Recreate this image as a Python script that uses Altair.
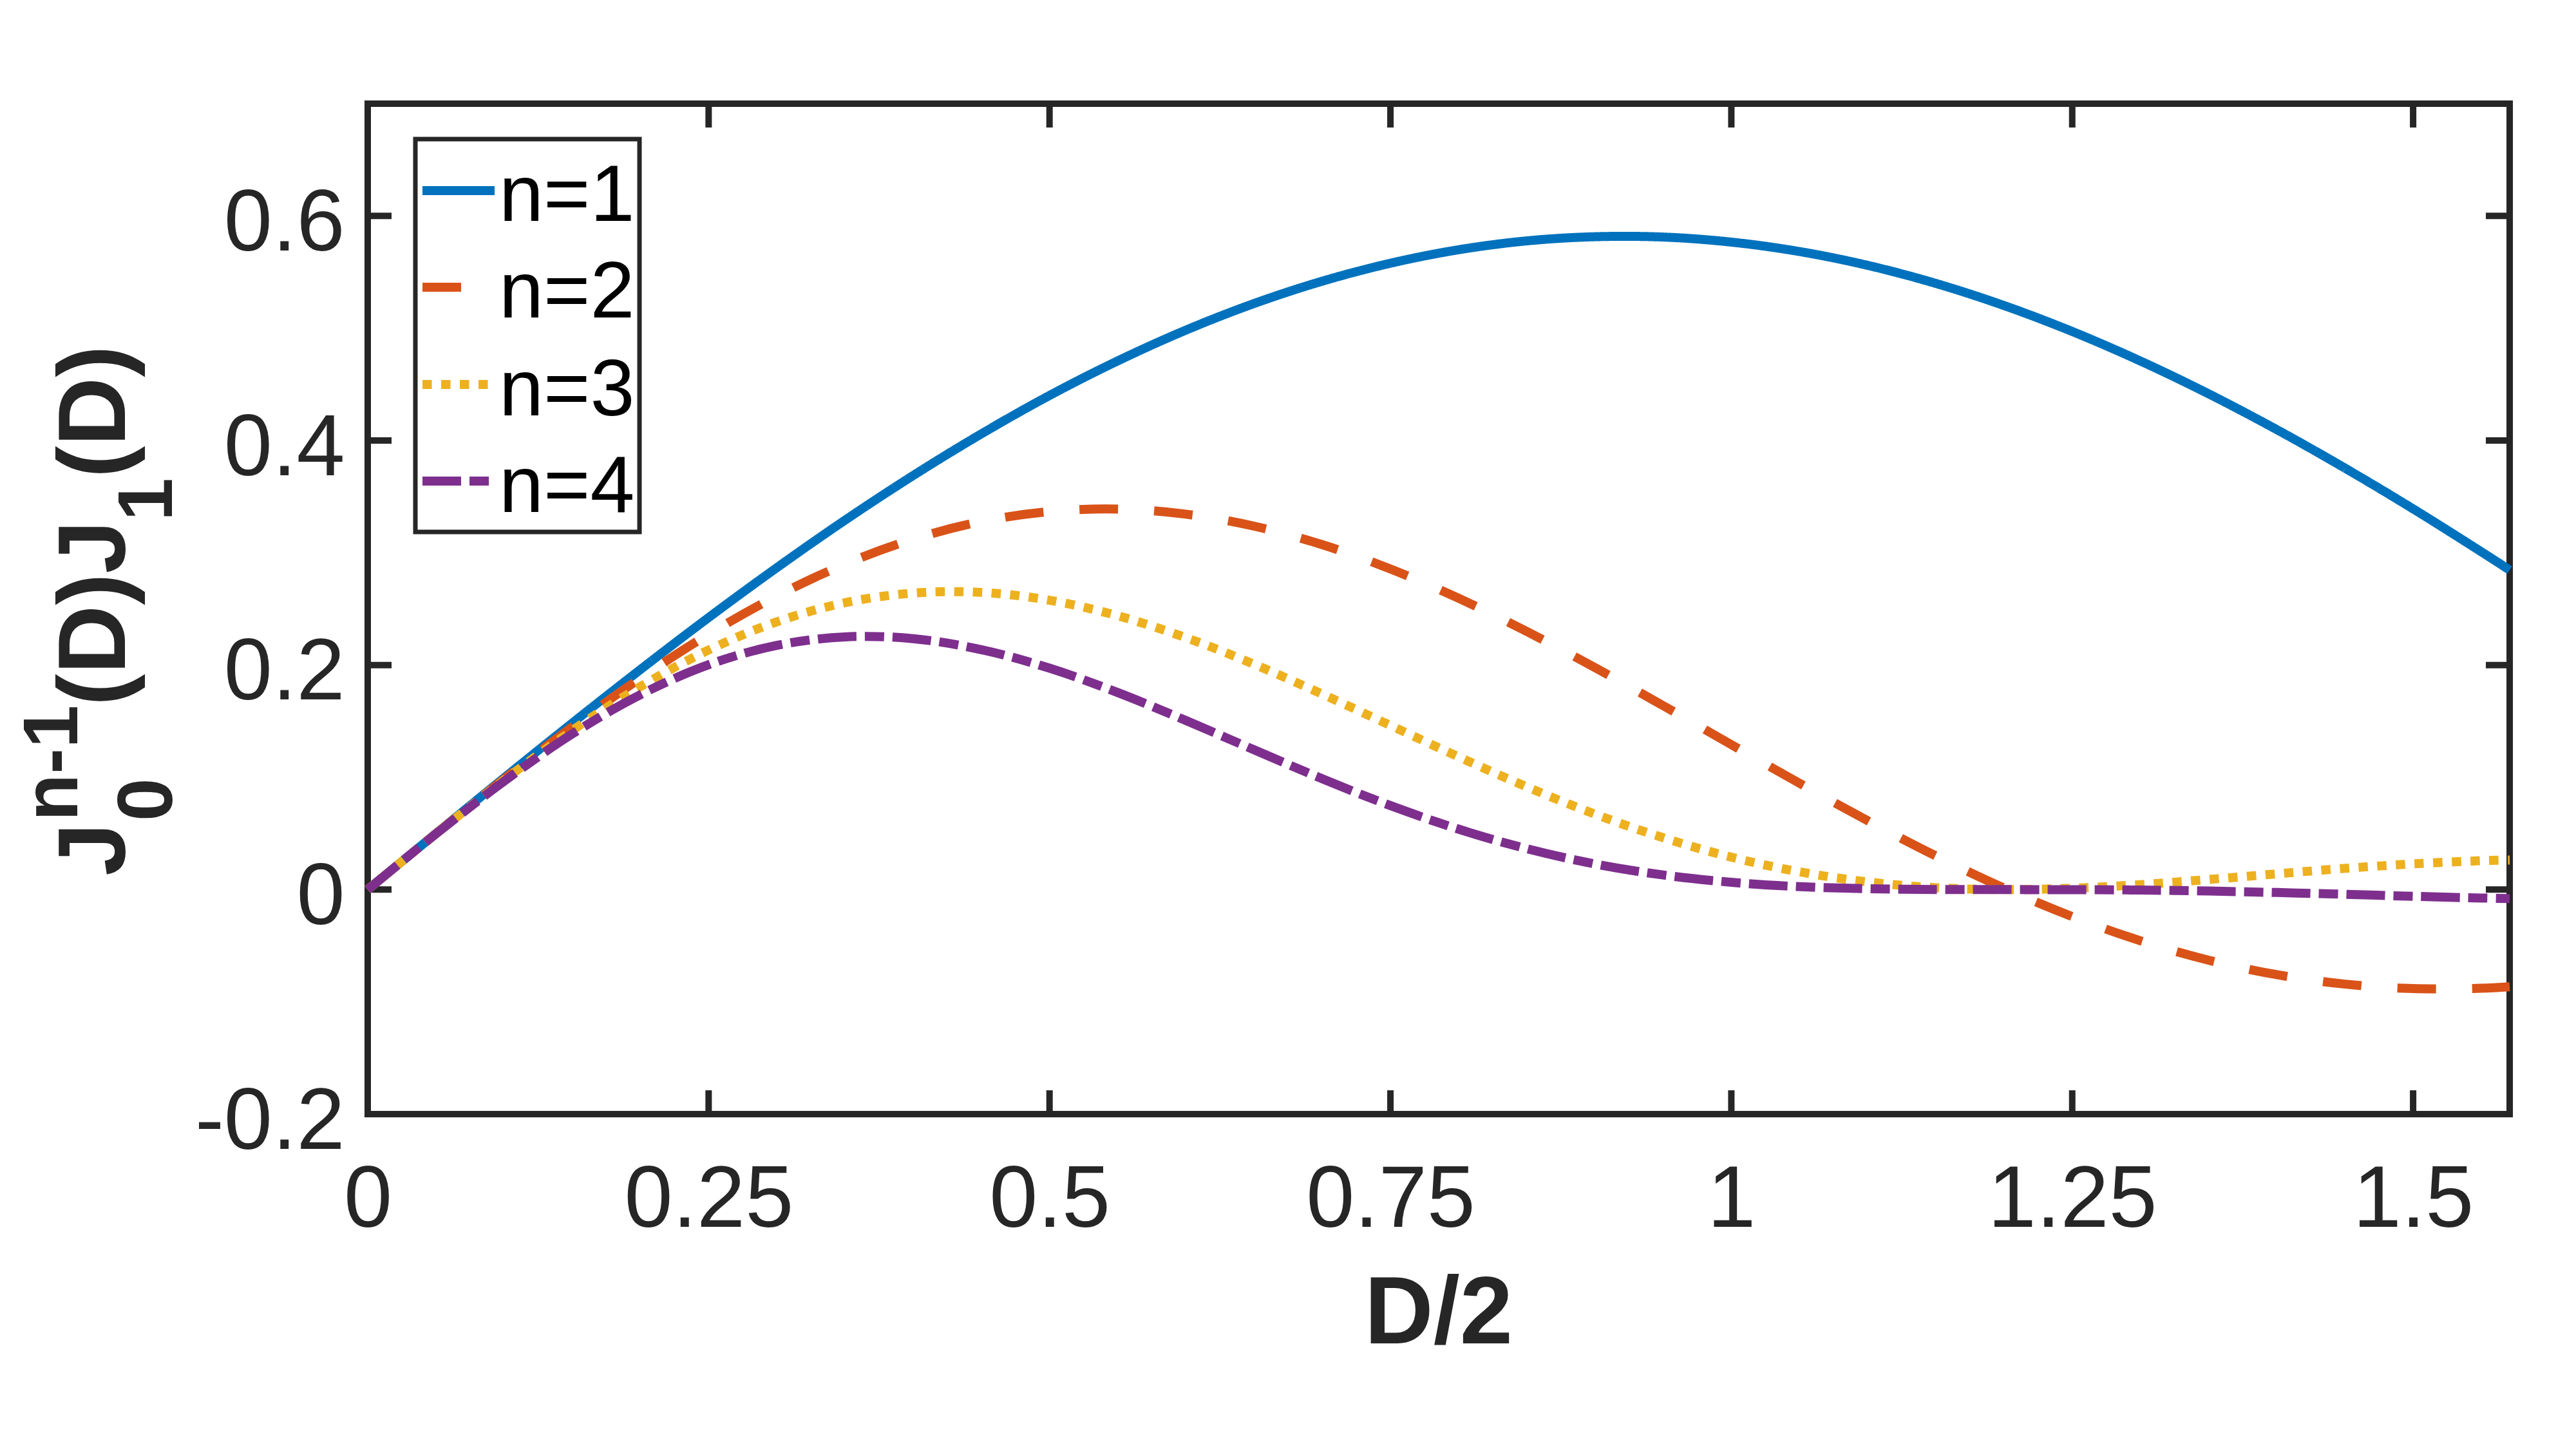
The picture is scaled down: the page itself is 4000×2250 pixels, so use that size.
import altair as alt
import pandas as pd

# ---------------- data ----------------
d_half = [0.00, 0.05, 0.10, 0.15, 0.20, 0.25, 0.30, 0.35, 0.40, 0.45, 0.50,
          0.55, 0.60, 0.65, 0.70, 0.75, 0.80, 0.85, 0.90, 0.95, 1.00, 1.05,
          1.10, 1.15, 1.20, 1.25, 1.30, 1.35, 1.40, 1.45, 1.50, 1.55, 1.5708]

n1 = [0.0000, 0.0499, 0.0995, 0.1483, 0.1960, 0.2423, 0.2867, 0.3290, 0.3688, 0.4059, 0.4401,
      0.4709, 0.4983, 0.5220, 0.5419, 0.5579, 0.5699, 0.5778, 0.5815, 0.5812, 0.5767, 0.5683,
      0.5560, 0.5399, 0.5202, 0.4971, 0.4708, 0.4416, 0.4097, 0.3754, 0.3391, 0.3009, 0.2846]

n2 = [0.0000, 0.0498, 0.0985, 0.1450, 0.1883, 0.2274, 0.2615, 0.2899, 0.3121, 0.3278, 0.3367,
      0.3389, 0.3344, 0.3237, 0.3072, 0.2856, 0.2595, 0.2299, 0.1977, 0.1638, 0.1291, 0.0947,
      0.0614, 0.0300, 0.0013, -0.0240, -0.0456, -0.0629, -0.0758, -0.0842, -0.0882, -0.0879, -0.0866]

n3 = [0.0000, 0.0497, 0.0975, 0.1418, 0.1808, 0.2134, 0.2385, 0.2555, 0.2641, 0.2647, 0.2577,
      0.2439, 0.2244, 0.2007, 0.1741, 0.1462, 0.1182, 0.0915, 0.0672, 0.0462, 0.0289, 0.0158,
      0.0068, 0.0017, 0.0000, 0.0012, 0.0044, 0.0090, 0.0140, 0.0189, 0.0229, 0.0257, 0.0263]

n4 = [0.0000, 0.0496, 0.0965, 0.1386, 0.1736, 0.2003, 0.2175, 0.2251, 0.2235, 0.2137, 0.1972,
      0.1755, 0.1506, 0.1245, 0.0987, 0.0748, 0.0538, 0.0364, 0.0228, 0.0130, 0.0065, 0.0026,
      0.0008, 0.0001, 0.0000, -0.0001, -0.0004, -0.0013, -0.0026, -0.0042, -0.0060, -0.0075, -0.0080]

series_names = ["n=1", "n=2", "n=3", "n=4"]
series_colors = ["#0072BD", "#D95319", "#EDB120", "#7E2F8E"]
series_dash = [[1, 0], [60, 56], [14.5, 14.5], [60, 13, 30, 13]]

x_ticks = [0, 0.25, 0.5, 0.75, 1, 1.25, 1.5]
y_ticks = [-0.2, 0, 0.2, 0.4, 0.6]
x_domain = [0, 1.5708]
y_domain = [-0.2, 0.7]

# ---------------- layout ----------------
FONT = "Liberation Sans"
INK = "#262626"
W, H = 3326, 1569
LEFT, TOP = 571, 161
TICK = 37

rows = []
for name, ys in zip(series_names, [n1, n2, n3, n4]):
    for xv, yv in zip(d_half, ys):
        rows.append({"x": xv, "y": yv, "series": name})
df = pd.DataFrame(rows)

xscale = alt.Scale(domain=x_domain, nice=False, zero=False)
yscale = alt.Scale(domain=y_domain, nice=False, zero=False)

x_axis = alt.Axis(values=x_ticks, title=None, ticks=False, tickSize=0, domain=False, grid=False,
                  labelFont=FONT, labelFontSize=135, labelColor=INK, labelPadding=67,
                  labelBaseline="top", labelFlush=False, labelOverlap=False, labelLimit=0,
                  labelExpr="datum.value + ''")
y_axis = alt.Axis(values=y_ticks, title=None, ticks=False, tickSize=0, domain=False, grid=False,
                  labelFont=FONT, labelFontSize=135, labelColor=INK, labelPadding=36,
                  labelAlign="right", labelBaseline="middle", labelOffset=12,
                  labelFlush=False, labelOverlap=False, labelLimit=0,
                  labelExpr="datum.value + ''")

xt = pd.DataFrame({"v": x_ticks})
yt = pd.DataFrame({"v": y_ticks})

tick_rule = dict(strokeWidth=10, color=INK)
ticks_bottom = alt.Chart(xt).mark_rule(**tick_rule).encode(
    x=alt.X("v:Q", scale=xscale, axis=x_axis), y=alt.value(H), y2=alt.value(H - TICK))
ticks_top = alt.Chart(xt).mark_rule(**tick_rule).encode(
    x=alt.X("v:Q", scale=xscale, axis=x_axis), y=alt.value(0), y2=alt.value(TICK))
ticks_left = alt.Chart(yt).mark_rule(**tick_rule).encode(
    y=alt.Y("v:Q", scale=yscale, axis=y_axis), x=alt.value(0), x2=alt.value(TICK))
ticks_right = alt.Chart(yt).mark_rule(**tick_rule).encode(
    y=alt.Y("v:Q", scale=yscale, axis=y_axis), x=alt.value(W), x2=alt.value(W - TICK))

lines = alt.Chart(df).mark_line(strokeWidth=14, interpolate="catmull-rom").encode(
    x=alt.X("x:Q", scale=xscale, axis=x_axis),
    y=alt.Y("y:Q", scale=yscale, axis=y_axis),
    color=alt.Color("series:N", scale=alt.Scale(domain=series_names, range=series_colors), legend=None),
    strokeDash=alt.StrokeDash("series:N", scale=alt.Scale(domain=series_names, range=series_dash), legend=None),
)


def txt(s, x, y, size, bold=False, angle=0, align="left", color=INK):
    kw = dict(align=align, baseline="alphabetic", font=FONT, fontSize=size, color=color)
    if bold:
        kw["fontWeight"] = "bold"
    if angle:
        kw["angle"] = angle
    return alt.Chart(pd.DataFrame({"t": [s]})).mark_text(**kw).encode(
        text="t:N", x=alt.value(x), y=alt.value(y))


# y-axis title  J_0^{n-1}(D) J_1(D), rotated, built from pieces
ytitle = [
    txt("J", 194 - LEFT, 1360 - TOP, 148, bold=True, angle=270),
    txt("0", 267 - LEFT, 1275 - TOP, 120, bold=True, angle=270),
    txt("n-1", 120 - LEFT, 1275 - TOP, 120, bold=True, angle=270),
    txt("(D)J", 194 - LEFT, 1096 - TOP, 148, bold=True, angle=270),
    txt("1", 267 - LEFT, 809 - TOP, 120, bold=True, angle=270),
    txt("(D)", 194 - LEFT, 742 - TOP, 148, bold=True, angle=270),
]

xtitle = txt("D/2", W / 2, 2086 - TOP, 148, bold=True, align="center")

# legend (box, samples, labels)
legend_box = alt.Chart(pd.DataFrame({"a": [0]})).mark_rect(
    fill="white", stroke=INK, strokeWidth=7).encode(
    x=alt.value(645 - LEFT), x2=alt.value(993 - LEFT),
    y=alt.value(216 - TOP), y2=alt.value(826 - TOP))

leg_sample_y = [296, 446, 597, 747]
leg_label_y = [343, 493, 645, 795]
legend_layers = [legend_box]
for name, col, dash, sy, ly in zip(series_names, series_colors, series_dash, leg_sample_y, leg_label_y):
    legend_layers.append(
        alt.Chart(pd.DataFrame({"a": [0]})).mark_rule(
            strokeWidth=14, color=col, strokeDash=dash).encode(
            x=alt.value(656 - LEFT), x2=alt.value(768 - LEFT), y=alt.value(sy - TOP)))
    legend_layers.append(txt(name, 775 - LEFT, ly - TOP, 124, color="#000000"))

chart = alt.layer(
    ticks_bottom, ticks_top, ticks_left, ticks_right, lines,
    *ytitle, xtitle, *legend_layers
).properties(
    width=W, height=H,
    padding={"left": LEFT, "top": TOP, "right": 4000 - LEFT - W, "bottom": 2250 - TOP - H},
    autosize=alt.AutoSizeParams(type="none"),
).configure(
    background="white", font=FONT
).configure_view(
    stroke=INK, strokeWidth=10
)

chart.save("out.html", embed_options={"renderer": "svg", "actions": False})
